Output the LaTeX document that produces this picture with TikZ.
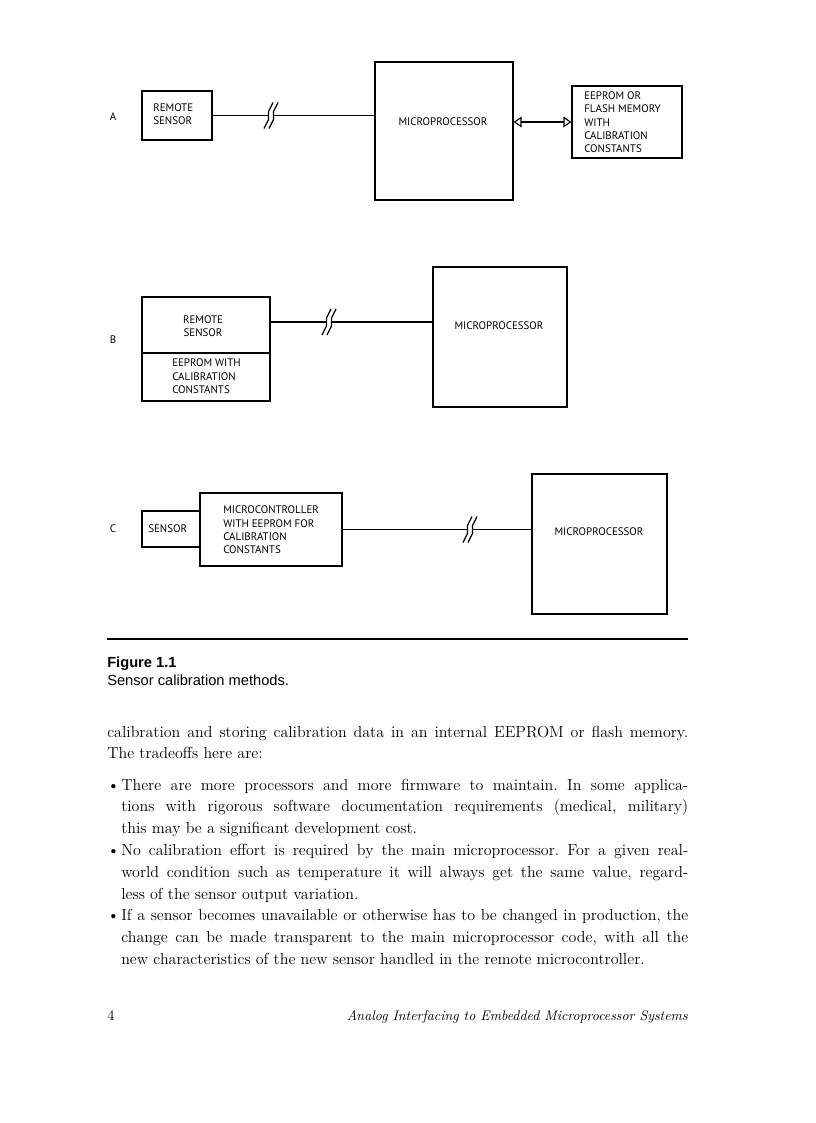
\documentclass[tikz,border=0pt]{standalone}
\usepackage{fontspec}
\newfontfamily\diagfont{PT Sans}
\newfontfamily\capfont{Liberation Sans}
\usetikzlibrary{arrows.meta}
\newcommand\justline[1]{\makebox[\linewidth][s]{#1}}
\frenchspacing
\begin{document}
\begin{tikzpicture}[x=0.75pt,y=-0.75pt,
  boxn/.style={draw, line width=0.85pt, inner sep=0pt},
  dtext/.style={inner sep=0pt, font=\diagfont\fontsize{8.2}{10}\selectfont},
  conn/.style={line width=0.9pt},
  bodytext/.style={inner sep=0pt, font=\fontsize{12}{16.35}\selectfont},
  brk/.pic={\draw[line width=0.9pt] (-7,13) -- (-2.5,4) -- (-2.5,-4) -- (2,-13);
            \draw[line width=0.9pt] (-2,13) -- (2.5,4) -- (2.5,-4) -- (7,-13);},
  tip/.tip={Triangle[open,length=6pt,width=8pt,line width=0.85pt]}
]
\useasboundingbox (0,0) rectangle (816,1123);
\fill[white] (0,0) rectangle (816,1123);

% ---------- A ----------
\node[dtext] (labA) at (113,117) {A};
\node[boxn, minimum width=52.5pt, minimum height=36.75pt] (sA) at (177,115.5) {};
\node[dtext, anchor=west, align=left] (sAt) at (153,114.5) {REMOTE\\SENSOR};
\node[boxn, minimum width=103.5pt, minimum height=103.5pt] (mA) at (444,131) {};
\node[dtext] (mAt) at (443,122) {MICROPROCESSOR};
\node[boxn, minimum width=82.5pt, minimum height=54pt] (eA) at (627,122) {};
\node[dtext, anchor=west, align=left] (eAt) at (584,122.5) {EEPROM OR\\FLASH MEMORY\\WITH\\CALIBRATION\\CONSTANTS};
\coordinate (bA) at (271,115.5);
\coordinate (bA1) at (268.5,115.5);
\coordinate (bA2) at (273.5,115.5);
\draw[conn] (sA.east) -- (bA1);
\draw[conn] (bA2) -- (bA2 -| mA.west);
\pic at (bA) {brk};
\draw[conn, {tip}-{tip}] (eA.west -| mA.east) -- (eA.west);

% ---------- B ----------
\node[dtext] (labB) at (113,340) {B};
\node[boxn, minimum width=96pt, minimum height=42pt] (sB) at (206,325) {};
\node[dtext, align=center] (sBt) at (203,326.5) {REMOTE\\SENSOR};
\node[boxn, minimum width=96pt, minimum height=36pt] (eB) at (206,377) {};
\node[dtext, anchor=west, align=left] (eBt) at (172,376.5) {EEPROM WITH\\CALIBRATION\\CONSTANTS};
\node[boxn, minimum width=100.5pt, minimum height=105pt] (mB) at (500,337) {};
\node[dtext] (mBt) at (499,326) {MICROPROCESSOR};
\coordinate (bB) at (329,322);
\coordinate (bB1) at (326.5,322);
\coordinate (bB2) at (331.5,322);
\draw[conn] ([yshift=2.25pt]sB.east) -- (bB1);
\draw[conn] (bB2) -- (bB2 -| mB.west);
\pic at (bB) {brk};

% ---------- C ----------
\node[dtext] (labC) at (113,529) {C};
\node[boxn, minimum width=43.5pt, minimum height=27pt] (sC) at (171,529) {};
\node[dtext, anchor=west] (sCt) at (148,529) {SENSOR};
\node[boxn, minimum width=106.5pt, minimum height=54.75pt] (uC) at (271,529.5) {};
\node[dtext, anchor=west, align=left] (uCt) at (223,530) {MICROCONTROLLER\\WITH EEPROM FOR\\CALIBRATION\\CONSTANTS};
\node[boxn, minimum width=101.25pt, minimum height=105pt] (mC) at (599.5,544) {};
\node[dtext] (mCt) at (599,532) {MICROPROCESSOR};
\coordinate (bC) at (470,529.5);
\coordinate (bC1) at (467.5,529.5);
\coordinate (bC2) at (472.5,529.5);
\draw[conn] (uC.east) -- (bC1);
\draw[conn] (bC2) -- (bC2 -| mC.west);
\pic at (bC) {brk};

% ---------- rule and caption ----------
\coordinate (r1) at (107,639);
\coordinate (r2) at (688,639);
\draw[line width=1.6pt] (r1) -- (r2);
\node[inner sep=0pt, anchor=base west, font=\capfont\bfseries\fontsize{11}{13}\selectfont] (figno) at (107,667) {Figure 1.1};
\node[inner sep=0pt, anchor=base west, font=\capfont\fontsize{11}{13}\selectfont] (figcap) at (107,685) {Sensor calibration methods.};

% ---------- body text ----------
\node[bodytext, anchor=base west] (p1) at (107,737) {\parbox[t]{435.75pt}{\justline{calibration and storing calibration data in an internal EEPROM or flash memory.}\\The tradeoffs here are:}};

\node[bodytext, anchor=base west] (d1) at (107,790) {\textbullet};
\node[bodytext, anchor=base west] (i1) at (121,790) {\parbox[t]{425.25pt}{\justline{There are more processors and more firmware to maintain. In some applica-}\\\justline{tions with rigorous software documentation requirements (medical, military)}\\this may be a significant development cost.}};

\node[bodytext, anchor=base west] (d2) at (107,855.4) {\textbullet};
\node[bodytext, anchor=base west] (i2) at (121,855.4) {\parbox[t]{425.25pt}{\justline{No calibration effort is required by the main microprocessor. For a given real-}\\\justline{world condition such as temperature it will always get the same value, regard-}\\less of the sensor output variation.}};

\node[bodytext, anchor=base west] (d3) at (107,920.8) {\textbullet};
\node[bodytext, anchor=base west] (i3) at (121,920.8) {\parbox[t]{425.25pt}{\justline{If a sensor becomes unavailable or otherwise has to be changed in production, the}\\\justline{change can be made transparent to the main microprocessor code, with all the}\\new characteristics of the new sensor handled in the remote microcontroller.}};

% ---------- footer ----------
\node[inner sep=0pt, anchor=base west, font=\fontsize{11}{13}\selectfont] (pgno) at (107,1020) {4};
\node[inner sep=0pt, anchor=base east, font=\itshape\fontsize{10.4}{13}\selectfont] (runhead) at (688,1020) {Analog Interfacing to Embedded Microprocessor Systems};
\end{tikzpicture}
\end{document}
